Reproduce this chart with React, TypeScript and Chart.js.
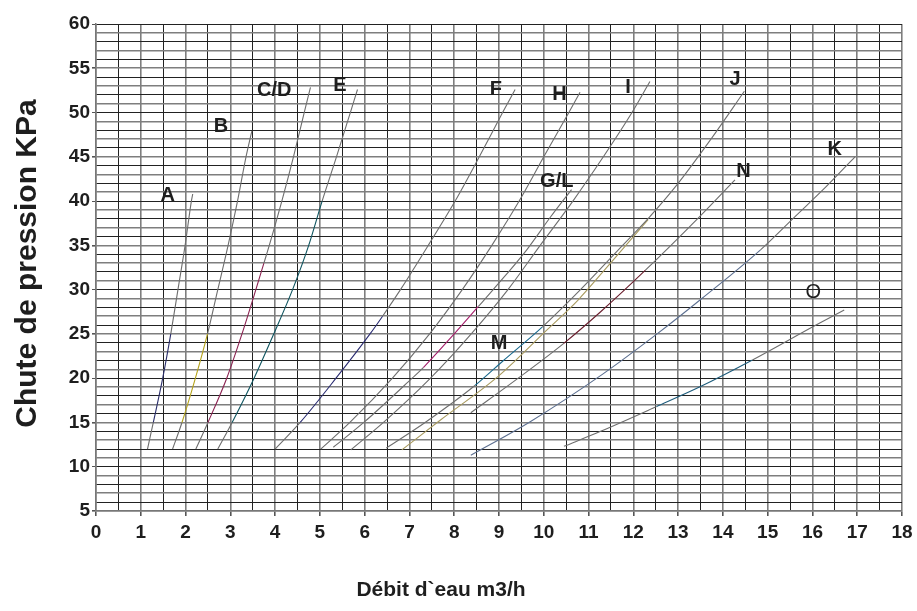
import React, { useEffect, useRef } from 'react';
import { Chart, registerables } from 'chart.js';

Chart.register(...registerables);

type Pt = [number, number];

// Flow (m3/h), pressure drop (kPa)
const curveA: Pt[] = [[1.15, 12], [1.28, 15], [1.49, 20], [1.67, 25], [1.83, 30], [1.99, 35], [2.13, 40], [2.16, 40.8]];
const curveB: Pt[] = [[1.71, 12], [1.92, 15], [2.22, 20], [2.49, 25], [2.72, 30], [2.95, 35], [3.16, 40], [3.35, 45], [3.48, 47.9]];
const curveCD: Pt[] = [[2.23, 12], [2.5, 15], [2.92, 20], [3.26, 25], [3.57, 30], [3.75, 33], [3.87, 35], [4.15, 40], [4.41, 45], [4.65, 50], [4.79, 52.85]];
const curveE: Pt[] = [[2.72, 12], [3.04, 15], [3.53, 20], [3.97, 25], [4.39, 30], [4.75, 35], [5.05, 40], [5.37, 45], [5.68, 50], [5.84, 52.6]];
const curveF: Pt[] = [[4.0, 12], [4.56, 15], [5.36, 20], [6.12, 25], [6.4, 27], [6.8, 30], [7.42, 35], [8.02, 40], [8.56, 45], [9.08, 50], [9.36, 52.6]];
const curveH: Pt[] = [[5.02, 12], [5.67, 15], [6.62, 20], [7.45, 25], [8.18, 30], [8.84, 35], [9.45, 40], [10.0, 45], [10.56, 50], [10.81, 52.3]];
const curveGL: Pt[] = [[5.3, 12.2], [5.98, 15], [7.06, 20], [7.31, 21.2], [8.0, 25], [8.54, 28.1], [8.87, 30], [9.62, 34.5], [10.15, 38.2], [10.62, 41.3]];
const curveI: Pt[] = [[5.69, 11.9], [6.42, 15], [7.47, 20], [8.38, 25], [9.2, 30], [9.92, 35], [10.65, 40], [11.33, 45], [11.97, 50], [12.37, 53.5]];
const curveJ: Pt[] = [[6.48, 12.1], [7.35, 15], [8.47, 19.2], [9.1, 22], [9.97, 25.8], [10.82, 30], [11.76, 35], [12.36, 38.2], [13.0, 42], [13.72, 46.9], [14.48, 52.4]];
const curveM: Pt[] = [[6.83, 11.9], [7.7, 15.3], [8.98, 20.2], [10.06, 25.4], [10.76, 28.8], [11.49, 33.0], [12.33, 37.9]];
const curveN: Pt[] = [[8.37, 16.1], [9.43, 20], [10.44, 23.9], [11.27, 27.5], [12.27, 32.2], [13.47, 38.2], [14.27, 42.4]];
const curveK: Pt[] = [[8.37, 11.3], [9.67, 15], [11.3, 20.4], [12.53, 25], [13.53, 29.0], [14.84, 34.5], [15.6, 38.2], [16.3, 41.6], [16.95, 45.0]];
const curveO: Pt[] = [[10.45, 12.3], [11.27, 14.0], [12.52, 16.8], [13.5, 19.05], [14.66, 22.05], [16.08, 26.0], [16.71, 27.7]];

// Coloured portion of each curve (kPa range)
const colouredFrom = [15, 15, 15, 15, 15, 0, 21.2, 0, 19.2, 0, 23.9, 0, 16.8];
const colouredTo = [25, 25, 33, 40, 27, 0, 28.1, 0, 25.8, 100, 32.2, 34.5, 22.05];

// Curve labels (text, flow, pressure)
const labelText = ['A', 'B', 'C/D', 'E', 'F', 'H', 'I', 'J', 'G/L', 'N', 'K', 'O', 'M'];
const labelX = [1.6, 2.79, 3.98, 5.45, 8.93, 10.35, 11.88, 14.27, 10.29, 14.46, 16.5, 16.02, 9.0];
const labelY = [40.66, 48.4, 52.47, 53.1, 52.6, 52.06, 52.85, 53.68, 42.19, 43.3, 45.8, 29.65, 23.87];

const xTitle = 'Débit d`eau m3/h';
const yTitle = 'Chute de pression KPa';

const FONT = '"Liberation Sans", Arial, Helvetica, sans-serif';
const GRAY = '#6e6e6e';
const COLOURS = ['#2b2f6b', '#b5a31c', '#8c2352', '#0f5560', '#2a2c72', GRAY, '#a51f6b', GRAY, '#1b6a8e', '#a89a5e', '#6b1f2e', '#5d7091', '#1d5c7c'];

export default function App() {
  const ref = useRef<HTMLCanvasElement>(null);

  useEffect(() => {
    const canvas = ref.current;
    if (!canvas) return;
    const curves = [curveA, curveB, curveCD, curveE, curveF, curveH, curveGL, curveI, curveJ, curveM, curveN, curveK, curveO];

    const datasets = curves.map((pts, i) => ({
      data: pts.map(([x, y]) => ({ x, y })),
      borderColor: GRAY,
      borderWidth: 1.1,
      pointRadius: 0,
      fill: false,
      cubicInterpolationMode: 'monotone' as const,
      segment: {
        borderColor: (ctx: any) => {
          const y0 = ctx.p0.parsed.y;
          const y1 = ctx.p1.parsed.y;
          return y0 >= colouredFrom[i] - 1e-6 && y1 <= colouredTo[i] + 1e-6 ? COLOURS[i] : GRAY;
        },
      },
    }));

    const textPlugin = {
      id: 'texts',
      afterDatasetsDraw(chart: any) {
        const { ctx, scales, chartArea } = chart;
        const xs = scales.x;
        const ys = scales.y;
        ctx.save();
        ctx.fillStyle = '#1e1e1e';
        ctx.textAlign = 'center';
        ctx.textBaseline = 'middle';
        labelText.forEach((t, i) => {
          ctx.font = (t === 'O' ? '' : 'bold ') + '20px ' + FONT;
          ctx.fillText(t, xs.getPixelForValue(labelX[i]), ys.getPixelForValue(labelY[i]));
        });
        ctx.font = 'bold 21px ' + FONT;
        ctx.fillText(xTitle, chartArea.left + 345, chart.height - 21);
        ctx.translate(28, (chartArea.top + chartArea.bottom) / 2 - 4);
        ctx.rotate(-Math.PI / 2);
        ctx.font = 'bold 30px ' + FONT;
        ctx.fillText(yTitle, 0, 0);
        ctx.restore();
      },
    };

    const gridColor = (ctx: any) => (ctx.index % 2 === 0 ? '#7e7e7e' : '#222222');
    const gridWidth = (ctx: any) => (ctx.index % 2 === 0 ? 1.6 : 1);

    const chart = new Chart(canvas, {
      type: 'line',
      data: { datasets },
      options: {
        animation: false,
        responsive: false,
        devicePixelRatio: 1,
        layout: { padding: { top: 24, right: 15, left: 0, bottom: 0 } },
        plugins: { legend: { display: false }, tooltip: { enabled: false } },
        scales: {
          x: {
            type: 'linear',
            min: 0,
            max: 18,
            afterFit: (axis: any) => { axis.height = 100; axis.paddingLeft = 0; axis.paddingRight = 0; },
            ticks: {
              stepSize: 0.5,
              autoSkip: false,
              maxRotation: 0,
              padding: 5,
              color: '#1e1e1e',
              font: { family: FONT, size: 19, weight: 'bold' },
              callback: (v: any) => (Number.isInteger(v) ? String(v) : ''),
            },
            grid: {
              color: gridColor,
              lineWidth: gridWidth,
              tickLength: 5,
              tickColor: (ctx: any) => (ctx.tick && Number.isInteger(ctx.tick.value) ? '#555' : 'rgba(0,0,0,0)'),
            },
            border: { color: '#777', width: 1.5 },
          },
          y: {
            type: 'linear',
            min: 5,
            max: 60,
            afterFit: (axis: any) => { axis.width = 96; axis.paddingTop = 0; axis.paddingBottom = 0; },
            ticks: {
              stepSize: 1,
              autoSkip: false,
              padding: 2,
              color: '#1e1e1e',
              font: { family: FONT, size: 19, weight: 'bold' },
              callback: (v: any) => (v % 5 === 0 ? String(v) : ''),
            },
            grid: {
              color: gridColor,
              lineWidth: gridWidth,
              tickLength: 4,
              tickColor: (ctx: any) => (ctx.tick && ctx.tick.value % 5 === 0 ? '#555' : 'rgba(0,0,0,0)'),
            },
            border: { color: '#777', width: 1.5 },
          },
        },
      },
      plugins: [textPlugin],
    });

    return () => chart.destroy();
  }, []);

  return (
    <div style={{ position: 'absolute', left: 0, top: 0, width: 917, height: 611, background: '#fff' }}>
      <canvas ref={ref} width={917} height={611} style={{ display: 'block' }} />
    </div>
  );
}
